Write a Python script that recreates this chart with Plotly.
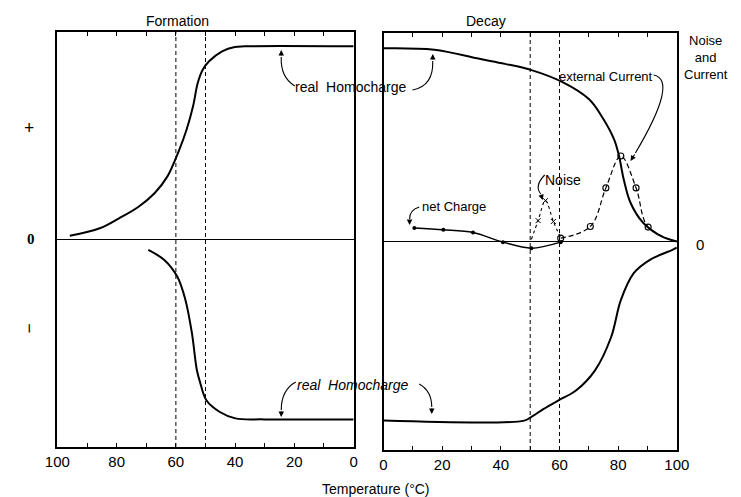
import plotly.graph_objects as go

# ---- data -------------------------------------------------------------
# Formation panel (temperature falls from 100 to 0 °C)
formation_pos_t = [95.8, 85.7, 79.2, 72.6, 67.2, 62.9, 59.1, 56.4, 54.2, 52.6, 50.9, 48.8, 44.4, 40.1, 36.8, 0]
formation_pos_q = [0.018, 0.054, 0.102, 0.158, 0.223, 0.303, 0.424, 0.529, 0.642, 0.755, 0.819, 0.859, 0.907, 0.928, 0.931, 0.931]
formation_neg_t = [69.3, 63.8, 59.5, 56.8, 54.6, 52.9, 51.8, 49.7, 45.3, 39.9, 30, 0]
formation_neg_q = [-0.05, -0.10, -0.18, -0.29, -0.45, -0.63, -0.69, -0.775, -0.83, -0.862, -0.867, -0.867]
formation_marks = [60, 50]

# Decay panel (temperature rises from 0 to 100 °C)
decay_pos_t = [0, 17.3, 32.7, 41.4, 50.2, 61.2, 70, 74.3, 78.6, 80.3, 81.9, 84.2, 88.5, 95, 100]
decay_pos_q = [0.927, 0.92, 0.876, 0.852, 0.823, 0.763, 0.683, 0.602, 0.49, 0.409, 0.297, 0.186, 0.09, 0.023, 0.0]
decay_neg_t = [0, 48, 50.2, 54.6, 59.5, 65.6, 72.1, 77.6, 80.9, 85.3, 90.8, 98.5, 100]
decay_neg_q = [-0.859, -0.859, -0.843, -0.803, -0.763, -0.715, -0.618, -0.458, -0.281, -0.152, -0.088, -0.04, -0.03]
decay_marks = [50, 60]

net_t = [10.5, 20.4, 30.5, 40.7, 50.4, 60.4]
net_q = [0.065, 0.056, 0.043, -0.003, -0.032, -0.003]

noise_t = [50.4, 52.7, 55.2, 57.9, 60.4]
noise_q = [0.01, 0.10, 0.196, 0.096, 0.018]

current_t = [60.4, 70.5, 75.8, 80.9, 86.1, 90.2, 100]
current_q = [0.016, 0.072, 0.257, 0.41, 0.257, 0.069, 0.0]

tick_vals = list(range(0, 101, 10))
tick_text = [str(v) if v % 20 == 0 else "" for v in tick_vals]

W, H = 741, 497
INK = "#000000"
HAND = "Liberation Sans Narrow, Liberation Sans, sans-serif"


def px(x, y):
    """Pixel position -> paper coordinates."""
    return x / W, 1 - y / H


fig = go.Figure()


def curve(t, q, ax, width=2.0, dash="solid", smooth=1.0):
    fig.add_trace(go.Scatter(x=t, y=q, xaxis=ax[0], yaxis=ax[1], mode="lines",
                             line=dict(color=INK, width=width, dash=dash,
                                       shape="spline", smoothing=smooth),
                             hoverinfo="skip", showlegend=False))


L = ("x", "y")
R = ("x2", "y2")

# real homocharge curves
curve(formation_pos_t, formation_pos_q, L)
curve(formation_neg_t, formation_neg_q, L)
curve(decay_pos_t, decay_pos_q, R)
curve(decay_neg_t, decay_neg_q, R)

# dashed temperature markers
for marks, ax in ((formation_marks, L), (decay_marks, R)):
    xs, ys = [], []
    for m in marks:
        xs += [m, m, None]
        ys += [-1, 1, None]
    fig.add_trace(go.Scatter(x=xs, y=ys, xaxis=ax[0], yaxis=ax[1], mode="lines",
                             line=dict(color=INK, width=1, dash="4px,3px"),
                             hoverinfo="skip", showlegend=False))

# net charge
fig.add_trace(go.Scatter(x=net_t, y=net_q, xaxis="x2", yaxis="y2", mode="lines+markers",
                         line=dict(color=INK, width=1.5, shape="spline", smoothing=0.9),
                         marker=dict(color=INK, size=4),
                         hoverinfo="skip", showlegend=False))
# noise
fig.add_trace(go.Scatter(x=noise_t, y=noise_q, xaxis="x2", yaxis="y2", mode="lines",
                         line=dict(color=INK, width=1.1, dash="dot", shape="spline", smoothing=1),
                         hoverinfo="skip", showlegend=False))
fig.add_trace(go.Scatter(x=noise_t[1:-1], y=noise_q[1:-1], xaxis="x2", yaxis="y2", mode="markers",
                         marker=dict(symbol="x-thin", size=5, color=INK, line=dict(color=INK, width=1)),
                         hoverinfo="skip", showlegend=False))
# external current
fig.add_trace(go.Scatter(x=current_t, y=current_q, xaxis="x2", yaxis="y2", mode="lines",
                         line=dict(color=INK, width=1.2, dash="5px,3px", shape="spline", smoothing=1),
                         hoverinfo="skip", showlegend=False))
fig.add_trace(go.Scatter(x=current_t[:-1], y=current_q[:-1], xaxis="x2", yaxis="y2", mode="markers",
                         marker=dict(symbol="circle-open", size=6, color=INK,
                                     line=dict(color=INK, width=1.1)),
                         hoverinfo="skip", showlegend=False))

# ---- axes -------------------------------------------------------------
xcommon = dict(tickmode="array", tickvals=tick_vals, ticktext=tick_text,
               ticks="inside", ticklen=4, tickcolor=INK, tickwidth=1,
               showline=True, linecolor=INK, linewidth=1.5, mirror="ticks",
               showgrid=False, zeroline=False,
               tickfont=dict(family=HAND, size=15, color=INK))
ycommon = dict(range=[-1, 1], showline=True, linecolor=INK, linewidth=1.5, mirror=True,
               showgrid=False, showticklabels=False, ticks="",
               zeroline=True, zerolinecolor=INK, zerolinewidth=1.2)

x0, _ = px(46, 0)
x1, _ = px(353, 0)
x2, _ = px(384, 0)
x3, _ = px(688, 0)
_, yl0 = px(0, 447)
_, yl1 = px(0, 32)
_, yr0 = px(0, 450)
_, yr1 = px(0, 33)

fig.update_layout(
    width=W, height=H,
    margin=dict(l=0, r=0, t=0, b=0),
    paper_bgcolor="white", plot_bgcolor="white",
    xaxis=dict(domain=[x0, x1], range=[100, 0], anchor="y", **xcommon),
    yaxis=dict(domain=[yl0, yl1], anchor="x", **ycommon),
    xaxis2=dict(domain=[x2, x3], range=[0, 100], anchor="y2", **xcommon),
    yaxis2=dict(domain=[yr0, yr1], anchor="x2", **ycommon),
    showlegend=False,
)


# ---- text -------------------------------------------------------------
def label(x, y, text, size=13, family=HAND, italic=False, angle=0, bold=False):
    if italic:
        text = f"<i>{text}</i>"
    if bold:
        text = f"<b>{text}</b>"
    xp, yp = px(x, y)
    fig.add_annotation(x=xp, y=yp, xref="paper", yref="paper", text=text, showarrow=False,
                       font=dict(family=family, size=size, color=INK), textangle=angle,
                       xanchor="center", yanchor="middle")


label(170, 21, "Formation", size=14)
label(490, 21, "Decay", size=14)
label(376, 489, "Temperature (°C)", size=14)

label(17, 128, "+", size=18, family="Liberation Serif", bold=True)
label(19, 239, "0", size=15, family="Liberation Serif", bold=True)
label(17, 328, "−", size=18, family="Liberation Serif", bold=True, angle=-90)
label(712, 244, "0", size=15)
label(718, 58, "Noise<br>and<br>Current", size=13)

label(350, 87, "real  Homocharge", size=14)
label(352, 385, "real  Homocharge", size=14, italic=True)
label(457, 207, "net Charge", size=13)
label(570, 180, "Noise", size=14)
label(615, 76, "external Current", size=13)


# curved pointers: quadratic path ending where a short arrowhead begins
def pointer(start, ctrl, tip, tail_dx, tail_dy):
    end = (tip[0] + tail_dx, tip[1] + tail_dy)
    s, c, e = px(*start), px(*ctrl), px(*end)
    fig.add_shape(type="path", xref="paper", yref="paper",
                  path=f"M {s[0]},{s[1]} Q {c[0]},{c[1]} {e[0]},{e[1]}",
                  line=dict(color=INK, width=1.1))
    tx, ty = px(*tip)
    fig.add_annotation(x=tx, y=ty, xref="paper", yref="paper", text="", showarrow=True,
                       ax=tail_dx, ay=tail_dy, arrowhead=2, arrowsize=1, arrowwidth=1.1,
                       arrowcolor=INK)


pointer((292, 86), (277, 77), (278, 50), 0, 7)
pointer((414, 90), (436, 86), (435, 54), 0, 7)
pointer((293, 382), (278, 390), (278, 417), 0, -7)
pointer((421, 384), (434, 391), (434, 414), 0, -7)
pointer((421, 207), (411, 210), (411, 225), 0, -6)
pointer((551, 175), (540, 186), (549, 200), -2, -6)
pointer((664, 75), (690, 80), (640, 161), 5, -8)

fig.write_html("out.html")
